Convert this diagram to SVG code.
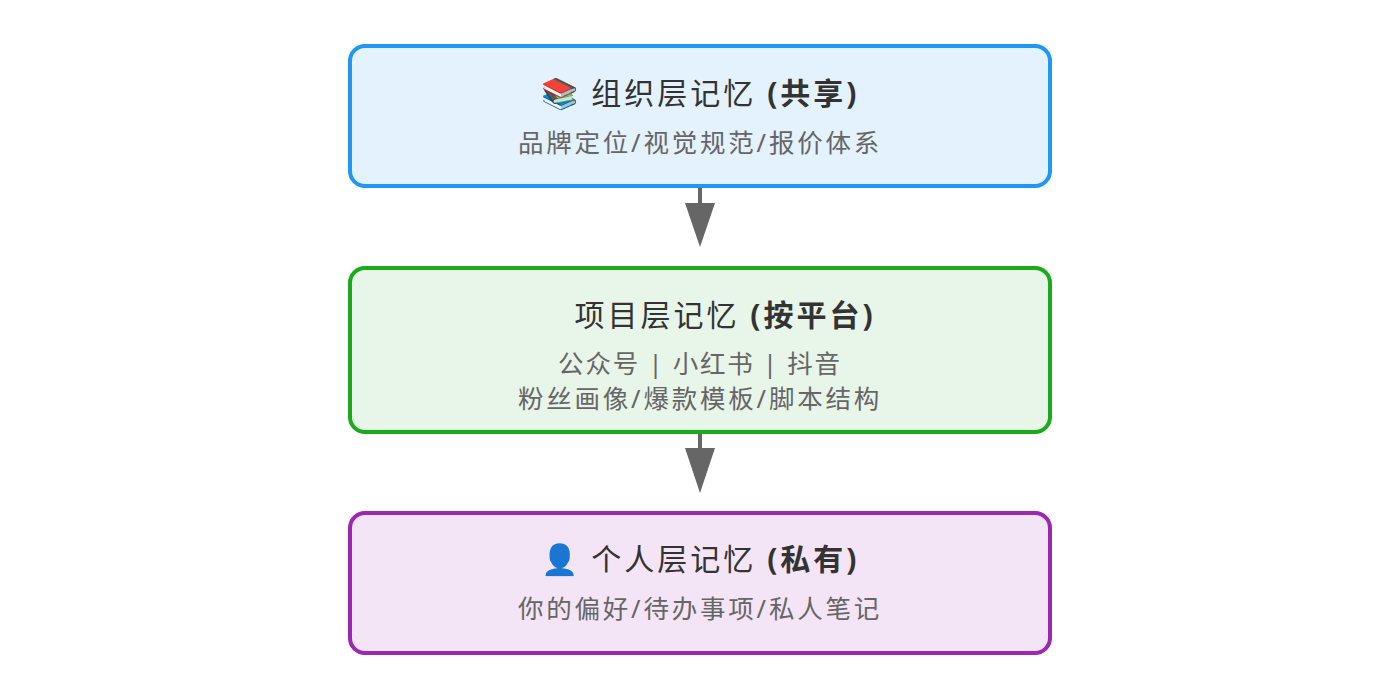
<svg xmlns="http://www.w3.org/2000/svg" width="1400" height="700" viewBox="0 0 1400 700">
<style>
.box{stroke-width:4}
.t{font-family:"Noto Sans","Noto Sans CJK SC",sans-serif;font-size:30px;fill:#333;text-anchor:middle;letter-spacing:3px}
.t tspan.b{font-weight:bold}
.s{font-family:"Noto Sans","Noto Sans CJK SC",sans-serif;font-size:25.5px;fill:#666;text-anchor:middle;letter-spacing:2.8px}
.c{stroke:#666;stroke-width:4;fill:none}
</style>
<rect width="1400" height="700" fill="#fff"/>
<g id="connectors">
<line class="c" x1="700" y1="187" x2="700" y2="205"/><path d="M685,203L715,203L700,247z" fill="#666"/>
<line class="c" x1="700" y1="433" x2="700" y2="450"/><path d="M685,448L715,448L700,493z" fill="#666"/>
</g>
<g id="org">
<rect class="box" x="350" y="46" width="700" height="140" rx="15" fill="#E3F2FD" stroke="#2196F3"/>
<text class="t" x="700" y="104">📚 组织层记忆 <tspan class="b">(共享)</tspan></text>
<text class="s" x="700" y="152">品牌定位/视觉规范/报价体系</text>
</g>
<g id="project">
<rect class="box" x="350" y="268" width="700" height="164" rx="15" fill="#E8F5E9" stroke="#1AAA1A"/>
<text class="t" x="725" y="326">项目层记忆 <tspan class="b">(按平台)</tspan></text>
<text class="s" x="700" y="373" style="letter-spacing:1.8px">公众号 | 小红书 | 抖音</text>
<text class="s" x="700" y="408">粉丝画像/爆款模板/脚本结构</text>
</g>
<g id="personal">
<rect class="box" x="350" y="513" width="700" height="140" rx="15" fill="#F3E5F5" stroke="#9C27B0"/>
<text class="t" x="700" y="570">👤 个人层记忆 <tspan class="b">(私有)</tspan></text>
<text class="s" x="700" y="618">你的偏好/待办事项/私人笔记</text>
</g>
</svg>
